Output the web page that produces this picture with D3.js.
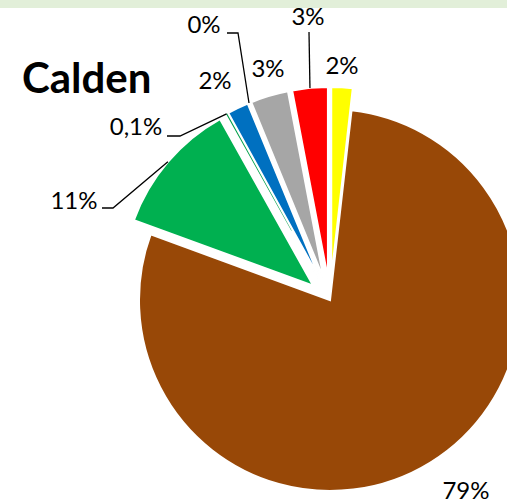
<!DOCTYPE html>
<html><head><meta charset="utf-8">
<script src="https://cdn.jsdelivr.net/npm/d3@7"></script>
<style>body{margin:0;background:#fff} svg{display:block}</style>
</head><body><svg id="c" width="507" height="504"></svg>
<script>
const title = "Calden";
const categories = ["Amarillo","Marrón","Verde","Verde claro","Azul","Otro","Gris","Rojo"];
const values = [1.8, 78.8, 11.3, 0.1, 1.8, 0.02, 3.2, 3.0];
const labels = ["2%","79%","11%","0,1%","2%","0%","3%","3%"];
const colors = ["#ffff00","#984807","#00b050","#00a04a","#0070c0","#7f7f7f","#a6a6a6","#ff0000"];
const exploded = [true,false,true,true,true,true,true,true];
// label text anchor (center x, baseline y) and leader start/elbow points
const labelPos = [[342,74],[466,499],[74,209],[136,135],[215,89],[204,33],[268,77],[308,25]];
const leaders = [null,null,[[102,208],[113,208]],[[167,136],[180,136]],null,[[227,33],[238,33]],null,[[309,32]]];

const svg = d3.select("#c");
const W = 507, H = 504;
const cx = 330, cy = 300, R = 191, explode = 22;

svg.append("rect").attr("x",0).attr("y",0).attr("width",W).attr("height",8).attr("fill","#e2efd9");

const data = categories.map((c,i)=>({cat:c, value:values[i], label:labels[i], color:colors[i], ex:exploded[i], lp:labelPos[i], ld:leaders[i]}));
const pie = d3.pie().value(d=>d.value).sort(null).startAngle(0).endAngle(2*Math.PI);
const arcs = pie(data);
const arc = d3.arc().innerRadius(0).outerRadius(R);
const edgeArc = d3.arc().innerRadius(R).outerRadius(R);

function offset(a){
  if(!a.data.ex) return [0,0];
  const m = (a.startAngle + a.endAngle)/2;
  return [explode*Math.sin(m), -explode*Math.cos(m)];
}

const g = svg.append("g").attr("transform",`translate(${cx},${cy})`);
g.selectAll("path.slice").data(arcs).join("path").attr("class","slice")
  .attr("transform",a=>{const o=offset(a);return `translate(${o[0]},${o[1]})`;})
  .attr("d",arc).attr("fill",a=>a.data.color)
  .attr("stroke","#fff").attr("stroke-width",2).attr("stroke-linejoin","miter");

// thin slice fill redrawn so its sliver remains visible
g.selectAll("path.thin").data(arcs.filter(a=>a.data.value>0.05 && a.data.value<0.5)).join("path").attr("class","thin")
  .attr("transform",a=>{const o=offset(a);return `translate(${o[0]},${o[1]})`;})
  .attr("d",d3.arc().innerRadius(R*0.3).outerRadius(R)).attr("fill",a=>a.data.color);

// leader lines
arcs.forEach(a=>{
  if(!a.data.ld) return;
  const o = offset(a);
  const p = edgeArc.centroid(a);
  const end = [cx+p[0]+o[0], cy+p[1]+o[1]];
  const pts = a.data.ld.concat([end]);
  svg.append("path").attr("d",d3.line()(pts)).attr("fill","none").attr("stroke","#000").attr("stroke-width",1.3);
});

svg.selectAll("text.lbl").data(arcs).join("text").attr("class","lbl")
  .attr("x",a=>a.data.lp[0]).attr("y",a=>a.data.lp[1])
  .attr("text-anchor","middle").attr("font-family","Lato, 'Open Sans', sans-serif")
  .attr("font-size",24).attr("fill","#000").text(a=>a.data.label);

svg.append("text").attr("x",22).attr("y",93).attr("font-family","Lato, 'Open Sans', sans-serif")
  .attr("font-weight","bold").attr("font-size",42).attr("fill","#000").text(title);
</script></body></html>
